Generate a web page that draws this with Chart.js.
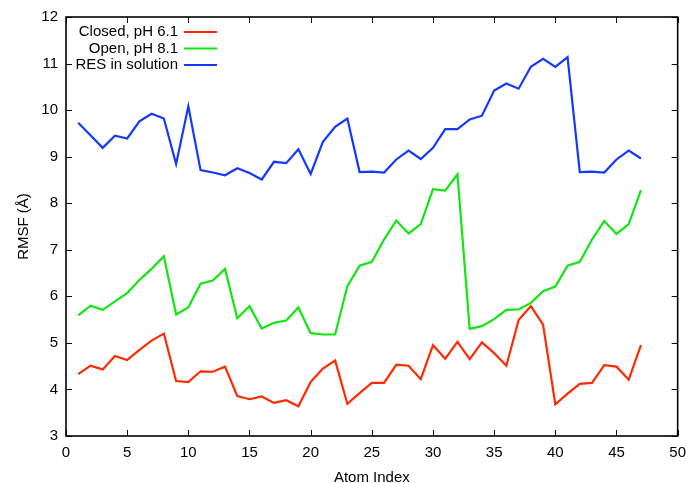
<!DOCTYPE html>
<html>
<head>
<meta charset="utf-8">
<script src="https://cdn.jsdelivr.net/npm/chart.js@4.4.1/dist/chart.umd.min.js"></script>
<style>
  html, body { margin: 0; padding: 0; background: #fff; }
  #wrap { width: 694px; height: 483px; }
</style>
</head>
<body>
<div id="wrap"><canvas id="rmsfChart" width="694" height="483"></canvas></div>
<script>
// ===== Data =====
const atomIndex = [1, 2, 3, 4, 5, 6, 7, 8, 9, 10, 11, 12, 13, 14, 15, 16, 17, 18, 19, 20, 21, 22, 23, 24,
                   25, 26, 27, 28, 29, 30, 31, 32, 33, 34, 35, 36, 37, 38, 39, 40, 41, 42, 43, 44, 45, 46, 47];

const closedPH61 = [4.33, 4.51, 4.43, 4.72, 4.63, 4.85, 5.05, 5.20, 4.18, 4.16, 4.39, 4.38, 4.49, 3.86, 3.79, 3.85,
                    3.71, 3.77, 3.64, 4.16, 4.45, 4.62, 3.69, 3.92, 4.14, 4.14, 4.53, 4.51, 4.22, 4.95, 4.66, 5.02,
                    4.65, 5.01, 4.78, 4.51, 5.49, 5.79, 5.39, 3.68, 3.91, 4.12, 4.14, 4.52, 4.49, 4.21, 4.95];

const openPH81 = [5.59, 5.80, 5.71, 5.89, 6.07, 6.35, 6.59, 6.86, 5.61, 5.76, 6.27, 6.34, 6.59, 5.53, 5.79, 5.31,
                  5.43, 5.48, 5.76, 5.21, 5.18, 5.18, 6.22, 6.66, 6.74, 7.22, 7.63, 7.35, 7.55, 8.30, 8.27, 8.62,
                  5.30, 5.36, 5.51, 5.71, 5.72, 5.86, 6.11, 6.21, 6.66, 6.74, 7.22, 7.62, 7.34, 7.55, 8.28];

const resSolution = [9.73, 9.46, 9.19, 9.45, 9.39, 9.76, 9.92, 9.82, 8.84, 10.08, 8.71, 8.66, 8.60, 8.75, 8.65, 8.51,
                     8.89, 8.86, 9.16, 8.63, 9.32, 9.64, 9.82, 8.67, 8.68, 8.66, 8.94, 9.13, 8.95, 9.19, 9.59, 9.59,
                     9.80, 9.88, 10.42, 10.57, 10.46, 10.93, 11.10, 10.93, 11.14, 8.67, 8.68, 8.66, 8.94, 9.13, 8.96];

const seriesLabels = ['Closed, pH 6.1', 'Open, pH 8.1', 'RES in solution'];
const seriesColors = ['#ff2a00', '#11e611', '#1438ff'];

const xTicks = [0, 5, 10, 15, 20, 25, 30, 35, 40, 45, 50];
const yTicks = [3, 4, 5, 6, 7, 8, 9, 10, 11, 12];

const FONT = 'Liberation Sans, Arial, Helvetica, sans-serif';

// ===== Plugins =====
// gnuplot-style frame with inward ticks on all four sides
const framePlugin = {
    id: 'frame',
    afterDatasetsDraw(chart) {
        const { ctx, chartArea: a, scales: { x, y } } = chart;
        const tl = 6;
        ctx.save();
        ctx.strokeStyle = '#000';
        ctx.lineWidth = 1;
        xTicks.forEach(v => {
            const px = Math.round(x.getPixelForValue(v)) + 0.5;
            ctx.beginPath();
            ctx.moveTo(px, a.bottom); ctx.lineTo(px, a.bottom - tl);
            ctx.moveTo(px, a.top); ctx.lineTo(px, a.top + tl);
            ctx.stroke();
        });
        yTicks.forEach(v => {
            const py = Math.round(y.getPixelForValue(v)) + 0.5;
            ctx.beginPath();
            ctx.moveTo(a.left, py); ctx.lineTo(a.left + tl, py);
            ctx.moveTo(a.right, py); ctx.lineTo(a.right - tl, py);
            ctx.stroke();
        });
        ctx.lineWidth = 1.6;
        ctx.strokeRect(a.left, a.top, a.right - a.left, a.bottom - a.top);
        ctx.restore();
    }
};

// legend: right-aligned label, line sample to its right (top-left inside the plot)
const keyPlugin = {
    id: 'key',
    afterDatasetsDraw(chart) {
        const { ctx } = chart;
        const textRight = 178, lineStart = 184, lineEnd = 217;
        const rows = [32, 48.5, 65];
        ctx.save();
        ctx.font = '15px ' + FONT;
        ctx.textAlign = 'right';
        ctx.textBaseline = 'middle';
        chart.data.datasets.forEach((ds, i) => {
            ctx.fillStyle = '#000';
            ctx.fillText(ds.label, textRight, rows[i]);
            ctx.strokeStyle = ds.borderColor;
            ctx.lineWidth = 2.2;
            ctx.beginPath();
            ctx.moveTo(lineStart, rows[i]);
            ctx.lineTo(lineEnd, rows[i]);
            ctx.stroke();
        });
        ctx.restore();
    }
};

// ===== Chart =====
const toPoints = vals => vals.map((v, i) => ({ x: atomIndex[i], y: v }));
const allSeries = [closedPH61, openPH81, resSolution];

const ctx = document.getElementById('rmsfChart').getContext('2d');
new Chart(ctx, {
    type: 'line',
    data: {
        datasets: allSeries.map((vals, i) => ({
            label: seriesLabels[i],
            data: toPoints(vals),
            borderColor: seriesColors[i],
            borderWidth: 2.2,
            pointRadius: 0,
            tension: 0,
            fill: false
        }))
    },
    options: {
        responsive: false,
        animation: false,
        events: [],
        layout: { padding: { top: 17, right: 9, left: 0, bottom: 0 } },
        plugins: { legend: { display: false }, tooltip: { enabled: false } },
        scales: {
            x: {
                type: 'linear',
                min: 0, max: 50,
                afterBuildTicks: s => { s.ticks = xTicks.map(v => ({ value: v })); },
                afterFit: s => { s.height = 47; },
                grid: { display: false, drawTicks: false },
                border: { display: false },
                ticks: { color: '#000', font: { family: FONT, size: 15 }, padding: 8, maxRotation: 0 },
                title: { display: true, text: 'Atom Index', color: '#000', font: { family: FONT, size: 15 }, padding: { top: 0, bottom: -4 } }
            },
            y: {
                min: 3, max: 12,
                afterBuildTicks: s => { s.ticks = yTicks.map(v => ({ value: v })); },
                afterFit: s => { s.width = 66; },
                grid: { display: false, drawTicks: false },
                border: { display: false },
                ticks: { color: '#000', font: { family: FONT, size: 15 }, padding: 8 },
                title: { display: true, text: 'RMSF (Å)', color: '#000', font: { family: FONT, size: 15 }, padding: { top: 15, bottom: 0 } }
            }
        }
    },
    plugins: [framePlugin, keyPlugin]
});
</script>
</body>
</html>
